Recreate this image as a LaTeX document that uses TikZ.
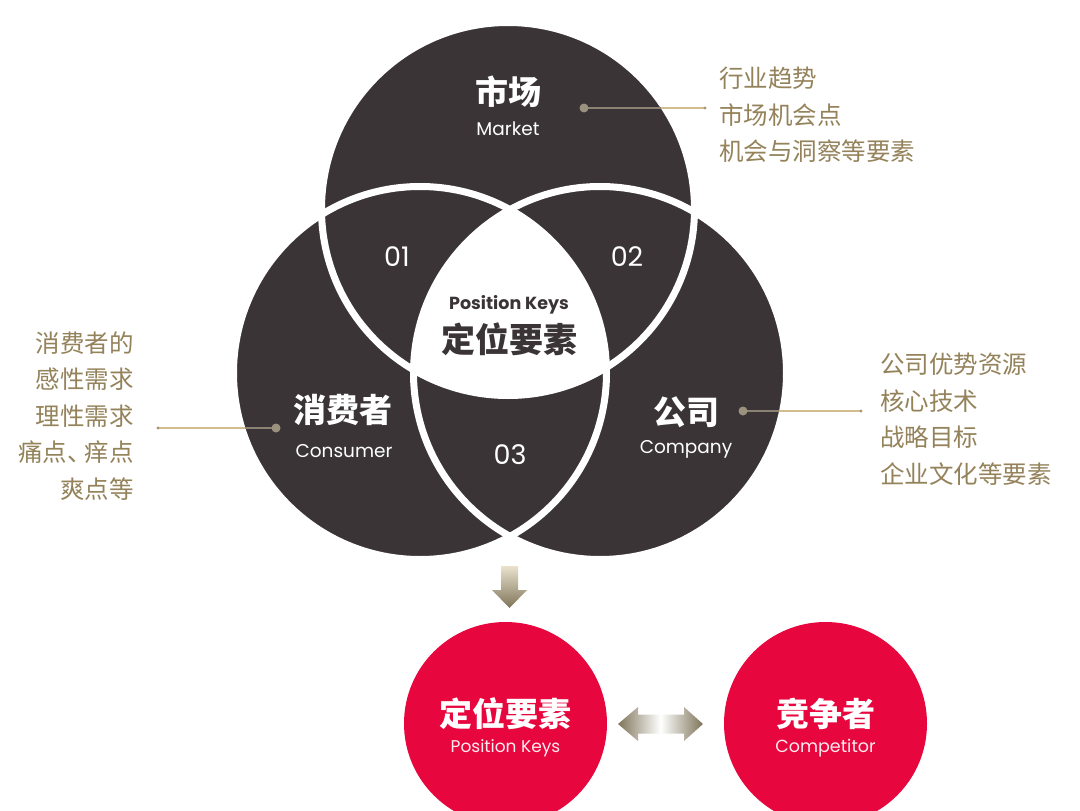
\documentclass[tikz,border=0pt]{standalone}
\usepackage{fontspec}
\setmainfont{Poppins}
\newfontfamily\cjk{Noto Sans CJK SC}
\newfontfamily\pop{Poppins}
\usetikzlibrary{shapes.geometric}
\definecolor{venn}{HTML}{3A3437}
\definecolor{khaki}{HTML}{94825A}
\definecolor{linegray}{HTML}{8A8272}
\definecolor{linegold}{HTML}{D4BD8C}
\definecolor{dotgray}{HTML}{9A927F}
\definecolor{redc}{HTML}{E8063E}
\definecolor{arrdark}{HTML}{7E7459}
\definecolor{arrlight}{HTML}{EAE2CD}
\begin{document}
\begin{tikzpicture}[x=1pt,y=-1pt,
  cjkbig/.style={font=\cjk\bfseries\fontsize{33}{36}\selectfont, inner sep=0pt},
  ensub/.style={font=\pop\fontsize{18.5}{20}\selectfont, inner sep=0pt},
  num/.style={font=\pop\fontsize{27}{29}\selectfont, text=white, inner sep=0pt},
  side/.style={font=\cjk\fontsize{24.5}{36.5}\selectfont, text=khaki, inner sep=0pt},
  conin/.style={draw=linegray, line width=1.2pt},
  conout/.style={draw=linegold, line width=1.2pt},
  bigdot/.style={fill=dotgray},
  enddot/.style={fill=linegold!80!black},
  redcirc/.style={circle, fill=redc, minimum size=203pt, inner sep=0pt},
  ring/.style={draw=white, line width=7pt}
]
\useasboundingbox (0,0) rectangle (1080,811);
\clip (0,0) rectangle (1080,811);
\fill[white] (0,0) rectangle (1080,811);

% Venn centres
\coordinate (M) at (508,209);
\coordinate (L) at (420,373);
\coordinate (R) at (600,373);

\fill[venn] (M) circle[radius=186.5pt];
\fill[venn] (L) circle[radius=186.5pt];
\fill[venn] (R) circle[radius=186.5pt];
\begin{scope}
  \clip (M) circle[radius=186.5pt];
  \clip (L) circle[radius=186.5pt];
  \fill[white] (R) circle[radius=186.5pt];
\end{scope}
\draw[ring] (M) circle[radius=186.5pt];
\draw[ring] (L) circle[radius=186.5pt];
\draw[ring] (R) circle[radius=186.5pt];

% Labels in the Venn
\node[cjkbig, text=white] (mkt) at (508,92) {市场};
\node[ensub, text=white] (mkten) at (508,129) {Market};
\node[cjkbig, text=white] (cons) at (343,410) {消费者};
\node[ensub, text=white] (consen) at (344,451) {Consumer};
\node[cjkbig, text=white] (comp) at (686,412) {公司};
\node[ensub, text=white] (compen) at (686,449) {Company};
\node[num] (n1) at (397,257) {01};
\node[num] (n2) at (627,257) {02};
\node[num] (n3) at (510,455) {03};
\node[font=\pop\bfseries\fontsize{17.5}{19}\selectfont, text=venn, inner sep=0pt] (pken) at (509,305) {Position Keys};
\node[cjkbig, text=venn, font=\cjk\bfseries\fontsize{34}{36}\selectfont] (pkcn) at (509,339) {定位要素};

% Side texts
\node[side, align=left, anchor=west] (mtxt) at (719,115) {行业趋势\\市场机会点\\机会与洞察等要素};
\node[side, align=right, anchor=east] (ctxt) at (134,416) {消费者的\\感性需求\\理性需求\\痛点、\kern-7pt痒点\\爽点等};
\node[side, align=left, anchor=west] (ptxt) at (880,419) {公司优势资源\\核心技术\\战略目标\\企业文化等要素};

% Connectors
\coordinate (mdot) at (584,108);
\coordinate (medge) at (661,108);
\coordinate (mend) at (705,108);
\draw[conin] (mdot) -- (medge);
\draw[conout] (medge) -- (mend);
\fill[bigdot] (mdot) circle[radius=4.5pt];
\fill[enddot] (mend) circle[radius=1.6pt];

\coordinate (cdot) at (276,428);
\coordinate (cedge) at (245,428);
\coordinate (cend) at (158,428);
\draw[conin] (cdot) -- (cedge);
\draw[conout] (cedge) -- (cend);
\fill[bigdot] (cdot) circle[radius=4.5pt];
\fill[enddot] (cend) circle[radius=1.6pt];

\coordinate (pdot) at (743,411);
\coordinate (pedge) at (779,411);
\coordinate (pend) at (861,411);
\draw[conin] (pdot) -- (pedge);
\draw[conout] (pedge) -- (pend);
\fill[bigdot] (pdot) circle[radius=4.5pt];
\fill[enddot] (pend) circle[radius=1.6pt];

% Bottom circles
\node[redcirc] (pkc) at (505.5,723.5) {};
\node[redcirc] (cpc) at (825.5,723.5) {};
\node[cjkbig, text=white] (pkc1) at (505.5,714) {定位要素};
\node[font=\pop\fontsize{17}{19}\selectfont, text=white!92!redc, inner sep=0pt] (pkc2) at (505.5,748) {Position Keys};
\node[cjkbig, text=white] (cpc1) at (825.5,714) {竞争者};
\node[font=\pop\fontsize{17.5}{19}\selectfont, text=white!92!redc, inner sep=0pt] (cpc2) at (825.5,748) {Competitor};

% Down arrow
\shade[top color=arrlight, bottom color=arrdark]
  (501,566) -- (518,566) -- (518,590) -- (527,590) -- (509.5,608) -- (492,590) -- (501,590) -- cycle;

% Double arrow
\shade[left color=arrdark, right color=arrdark, middle color=white]
  (618,724) -- (638,707) -- (638,714.5) -- (684,714.5) -- (684,707) -- (703,724)
  -- (684,741) -- (684,733.5) -- (638,733.5) -- (638,741) -- cycle;
\end{tikzpicture}
\end{document}
